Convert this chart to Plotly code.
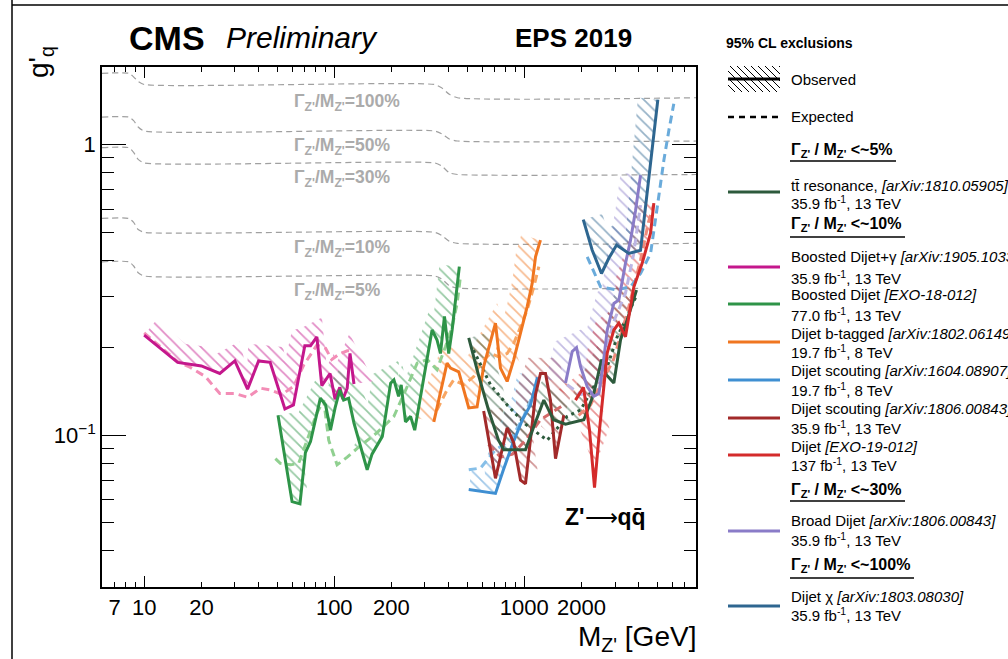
import numpy as np
import plotly.graph_objects as go

# ---------------- data ----------------
# Boosted Dijet + gamma
bdg_obs_x = [10, 15, 20, 25, 30, 35, 40, 46, 55, 61, 70, 75, 81, 86, 95, 101, 107, 111, 117, 121, 127]
bdg_obs_y = [0.221, 0.178, 0.173, 0.163, 0.180, 0.144, 0.180, 0.178, 0.123, 0.127, 0.203, 0.203, 0.218,
             0.148, 0.163, 0.133, 0.146, 0.133, 0.145, 0.191, 0.150]
bdg_exp_x = [10, 15, 17.5, 21, 25, 30, 35, 41, 46, 53, 61, 69, 81, 90, 97, 106, 117, 124]
bdg_exp_y = [0.225, 0.179, 0.171, 0.159, 0.139, 0.139, 0.135, 0.145, 0.143, 0.138, 0.147, 0.174, 0.204,
             0.199, 0.182, 0.190, 0.195, 0.195]
# Boosted Dijet
bd_obs_x = [50.6, 60, 66, 70.5, 75, 78.6, 84.5, 90, 95.5, 101, 107, 112, 119, 127, 149, 158, 179, 198, 206,
            218, 225, 237, 252, 265, 284, 327, 347, 362, 380, 400, 417, 455]
bd_obs_y = [0.117, 0.059, 0.058, 0.087, 0.095, 0.109, 0.134, 0.127, 0.104, 0.124, 0.143, 0.132, 0.134, 0.110,
            0.076, 0.086, 0.099, 0.151, 0.155, 0.136, 0.149, 0.111, 0.116, 0.104, 0.136, 0.230, 0.213, 0.191,
            0.256, 0.191, 0.230, 0.380]
bd_exp_x = [49, 52, 59, 65, 69, 75, 81, 88, 93.5, 103.5, 117, 132, 149, 168, 198, 206, 242, 273, 308, 347,
            385, 417, 443, 461]
bd_exp_y = [0.083, 0.080, 0.079, 0.080, 0.089, 0.103, 0.119, 0.132, 0.096, 0.079, 0.084, 0.090, 0.096, 0.102,
            0.113, 0.116, 0.147, 0.177, 0.182, 0.168, 0.202, 0.236, 0.284, 0.351]
# Dijet b-tagged
bt_obs_x = [334, 392, 409, 452, 510, 564, 611, 705, 749, 812, 880, 955, 1035, 1100, 1145, 1216]
bt_obs_y = [0.111, 0.177, 0.170, 0.165, 0.124, 0.125, 0.172, 0.243, 0.170, 0.153, 0.182, 0.224, 0.277, 0.333,
            0.411, 0.469]
bt_exp_x = [347, 392, 425, 480, 542, 588, 664, 734, 812, 880, 955, 1035, 1122, 1192]
bt_exp_y = [0.122, 0.143, 0.155, 0.149, 0.159, 0.177, 0.191, 0.186, 0.191, 0.207, 0.236, 0.270, 0.324, 0.380]
# Dijet scouting 8 TeV
s8_obs_x = [510, 705, 776, 866, 977, 1077, 1172]
s8_obs_y = [0.065, 0.063, 0.076, 0.093, 0.113, 0.127, 0.158]
s8_exp_x = [510, 588, 705, 845, 993, 1122, 1192]
s8_exp_y = [0.076, 0.077, 0.089, 0.096, 0.116, 0.140, 0.151]
# Dijet scouting 13 TeV
s13_obs_x = [611, 705, 812, 880, 955, 1014, 1145, 1216, 1292, 1372, 1459, 1550, 1613]
s13_obs_y = [0.121, 0.071, 0.106, 0.094, 0.070, 0.068, 0.138, 0.163, 0.163, 0.132, 0.083, 0.104, 0.117]
s13_exp_x = [648, 749, 866, 1014, 1216, 1459, 1607]
s13_exp_y = [0.093, 0.084, 0.086, 0.096, 0.113, 0.122, 0.127]
# ttbar resonance
tt_obs_x = [510, 574, 648, 731, 780, 1014, 1122, 1266, 1424, 1646, 2056, 2312, 2548, 2705, 2957, 3208, 3477, 3892]
tt_obs_y = [0.216, 0.161, 0.122, 0.096, 0.089, 0.089, 0.107, 0.132, 0.113, 0.109, 0.113, 0.138, 0.182, 0.161,
            0.151, 0.213, 0.249, 0.316]
tt_exp_x = [540, 664, 812, 1014, 1319, 1680, 1976, 2319, 2730, 3080, 3405, 3892]
tt_exp_y = [0.196, 0.149, 0.127, 0.109, 0.096, 0.116, 0.122, 0.147, 0.172, 0.218, 0.249, 0.303]
# Dijet EXO-19-012
dj_obs_x = [1858, 2048, 2202, 2340, 2485, 2730, 2957, 3142, 3405, 3768, 4171, 4614, 4800]
dj_obs_y = [0.132, 0.146, 0.104, 0.066, 0.104, 0.192, 0.230, 0.243, 0.218, 0.324, 0.391, 0.496, 0.629]
dj_exp_x = [1928, 2229, 2517, 2947, 3477, 4086, 4500, 4780]
dj_exp_y = [0.117, 0.127, 0.149, 0.182, 0.263, 0.401, 0.541, 0.619]
# Broad dijet
br_obs_x = [1646, 1786, 1881, 1976, 2142, 2319, 2467, 2578, 2730, 2957, 3142, 3405, 3620, 3848, 4086]
br_obs_y = [0.151, 0.194, 0.200, 0.172, 0.147, 0.136, 0.139, 0.168, 0.230, 0.284, 0.292, 0.390, 0.469, 0.594, 0.784]
br_exp_x = [1680, 1976, 2312, 2517, 2947, 3405, 3750, 4086]
br_exp_y = [0.149, 0.138, 0.140, 0.164, 0.245, 0.308, 0.417, 0.619]
# Dijet chi
chi_obs_x = [2042, 2276, 2546, 2781, 3056, 3546, 4086, 5039]
chi_obs_y = [0.552, 0.433, 0.360, 0.406, 0.451, 0.422, 0.433, 1.428]
chi_exp_x = [2142, 2517, 3060, 3620, 4086, 4614, 5004, 5420, 5760, 6113]
chi_exp_y = [0.411, 0.324, 0.316, 0.324, 0.360, 0.422, 0.610, 0.883, 1.12, 1.383]

# Gamma/M width reference curves
width_x = [6, 8.3, 8.8, 9.3, 10, 337, 367, 403, 445, 8000]
width_100 = [1.76, 1.76, 1.71, 1.65, 1.61, 1.61, 1.57, 1.49, 1.45, 1.45]
width_50 = [1.244, 1.244, 1.21, 1.15, 1.114, 1.114, 1.09, 1.045, 1.029, 1.029]
width_30 = [0.976, 0.976, 0.94, 0.89, 0.865, 0.865, 0.845, 0.80, 0.789, 0.789]
width_10 = [0.557, 0.557, 0.54, 0.51, 0.499, 0.499, 0.487, 0.465, 0.457, 0.457]
width_5 = [0.395, 0.395, 0.382, 0.362, 0.353, 0.353, 0.345, 0.327, 0.321, 0.321]
width_labels = ["100%", "50%", "30%", "10%", "5%"]

x_major = [10, 100, 1000]
x_labels = {7: "7", 10: "10", 20: "20", 100: "100", 200: "200", 1000: "1000", 2000: "2000"}
y_major = [0.1, 1]
y_major_text = ["10<sup>\u22121</sup>", "1"]

# ---------------- geometry / style ----------------
W, H = 1008, 659
PX0, PX1, PY0, PY1 = 102, 696, 67, 587
XMIN, XMAX = 6, 8000
YMIN, YMAX = 0.03, 1.85
SX = (PX1 - PX0) / np.log10(XMAX / XMIN)
SY = (PY1 - PY0) / np.log10(YMAX / YMIN)
FONT = "Liberation Sans"


def pxx(x):
    return (x - PX0) / (PX1 - PX0)


def pyy(y):
    return (PY1 - y) / (PY1 - PY0)


def band(xs, ys, w=20.0):
    """hatched exclusion band on the upper/left side of an observed curve"""
    u = np.log10(np.asarray(xs, float)) * SX
    v = np.log10(np.asarray(ys, float)) * SY
    du, dv = np.diff(u), np.diff(v)
    L = np.hypot(du, dv)
    nu, nv = -dv / L, du / L
    NU = np.empty(len(u))
    NV = np.empty(len(u))
    NU[0], NV[0] = nu[0], nv[0]
    NU[-1], NV[-1] = nu[-1], nv[-1]
    a = nu[:-1] + nu[1:]
    b = nv[:-1] + nv[1:]
    m = np.hypot(a, b)
    m[m == 0] = 1
    NU[1:-1] = a / m
    NV[1:-1] = b / m
    ou, ov = u + w * NU, v + w * NV
    pu = np.concatenate([u, ou[::-1], u[:1]])
    pv = np.concatenate([v, ov[::-1], v[:1]])
    return 10 ** (pu / SX), 10 ** (pv / SY)


series = [
    # obs_x, obs_y, exp_x, exp_y, color, exp_color, exp_dash
    (bdg_obs_x, bdg_obs_y, bdg_exp_x, bdg_exp_y, "#c4178c", "#f38db6", "8px,5px"),
    (bd_obs_x, bd_obs_y, bd_exp_x, bd_exp_y, "#2e9448", "#90d090", "8px,5px"),
    (bt_obs_x, bt_obs_y, bt_exp_x, bt_exp_y, "#f07620", "#f8a663", "8px,5px"),
    (s8_obs_x, s8_obs_y, s8_exp_x, s8_exp_y, "#3f8fd2", "#86bfe8", "8px,5px"),
    (s13_obs_x, s13_obs_y, s13_exp_x, s13_exp_y, "#a22a2a", "#d46a6a", "8px,5px"),
    (tt_obs_x, tt_obs_y, tt_exp_x, tt_exp_y, "#2d5a3c", "#2d5a3c", "3px,4px"),
    (br_obs_x, br_obs_y, br_exp_x, br_exp_y, "#8a7cc8", "#bdb5e3", "8px,5px"),
    (dj_obs_x, dj_obs_y, dj_exp_x, dj_exp_y, "#d42b2b", "#f08a7a", "8px,5px"),
    (chi_obs_x, chi_obs_y, chi_exp_x, chi_exp_y, "#2e6690", "#6aabdb", "8px,5px"),
]

fig = go.Figure()

# width reference dashed lines
for wy in [width_100, width_50, width_30, width_10, width_5]:
    fig.add_trace(go.Scatter(x=width_x, y=wy, mode="lines", hoverinfo="skip", showlegend=False,
                             line=dict(color="#a0a0a0", width=1.2, dash="6px,4px", shape="spline", smoothing=0.6)))

# hatched bands
for ox, oy, ex, ey, col, ecol, dsh in series:
    bx, by = band(ox, oy, 20)
    fig.add_trace(go.Scatter(x=bx, y=by, mode="lines", fill="toself", hoverinfo="skip", showlegend=False,
                             line=dict(width=0, color="rgba(0,0,0,0)"), fillcolor="rgba(0,0,0,0)",
                             fillpattern=dict(shape="\\", fgcolor=col, bgcolor="rgba(0,0,0,0)",
                                              size=8, solidity=0.22)))
# expected
for ox, oy, ex, ey, col, ecol, dsh in series:
    fig.add_trace(go.Scatter(x=ex, y=ey, mode="lines", hoverinfo="skip", showlegend=False,
                             line=dict(color=ecol, width=3, dash=dsh)))
# observed
for ox, oy, ex, ey, col, ecol, dsh in series:
    fig.add_trace(go.Scatter(x=ox, y=oy, mode="lines", hoverinfo="skip", showlegend=False,
                             line=dict(color=col, width=3)))

# dummy trace for minor-tick overlay axes
fig.add_trace(go.Scatter(x=[], y=[], xaxis="x2", yaxis="y2", showlegend=False, hoverinfo="skip"))

# tick lists
x_minor = []
for dec in [1, 10, 100, 1000]:
    for k in range(2, 10):
        v = k * dec
        if XMIN < v < XMAX and v not in x_major:
            x_minor.append(v)
x_minor_text = [x_labels.get(v, "") for v in x_minor]
y_minor = []
for dec in [0.01, 0.1, 1]:
    for k in range(2, 10):
        v = round(k * dec, 4)
        if YMIN < v < YMAX:
            y_minor.append(v)

tickfont = dict(family=FONT, size=22, color="black")
common = dict(type="log", showgrid=False, zeroline=False, ticks="inside", tickcolor="black", tickwidth=1,
              showline=True, linecolor="black", linewidth=1.5, mirror="ticks", tickfont=tickfont)

fig.update_layout(
    width=W, height=H, autosize=False,
    margin=dict(l=PX0, r=W - PX1, t=PY0, b=H - PY1, pad=0),
    paper_bgcolor="white", plot_bgcolor="white",
    font=dict(family=FONT, color="black"),
    xaxis=dict(range=[np.log10(XMIN), np.log10(XMAX)], tickmode="array", tickvals=x_major,
               ticktext=[x_labels[v] for v in x_major], ticklen=11, **common),
    xaxis2=dict(range=[np.log10(XMIN), np.log10(XMAX)], tickmode="array", tickvals=x_minor,
                ticktext=x_minor_text, ticklen=5, overlaying="x", anchor="y2", side="bottom", **common),
    yaxis=dict(range=[np.log10(YMIN), np.log10(YMAX)], tickmode="array", tickvals=y_major,
               ticktext=y_major_text, ticklen=24, **common),
    yaxis2=dict(range=[np.log10(YMIN), np.log10(YMAX)], tickmode="array", tickvals=y_minor,
                ticktext=["" for _ in y_minor], ticklen=12, overlaying="y", anchor="x2", side="left", **common),
)

ann = []
shapes = []


def text(x, y, s, size=15, xanchor="left", color="black", **kw):
    ann.append(dict(x=pxx(x), y=pyy(y), xref="paper", yref="paper", text=s, showarrow=False,
                    xanchor=xanchor, yanchor="middle", font=dict(family=FONT, size=size, color=color), **kw))


def hline(x0, x1, y, color="black", width=1.5, dash=None):
    shapes.append(dict(type="line", xref="paper", yref="paper", x0=pxx(x0), x1=pxx(x1), y0=pyy(y), y1=pyy(y),
                       line=dict(color=color, width=width, dash=dash)))


# titles
text(127, 38, "<b>CMS</b>", size=34)
text(224, 38, "<i>Preliminary</i>", size=30)
text(513, 38, "<b>EPS 2019</b>", size=26)
# width labels
for lab, yy in zip(width_labels, [103, 146, 178, 248, 291]):
    text(292, yy, "<b>\u0393<sub>Z'</sub>/M<sub>Z'</sub>=" + lab + "</b>", size=17.5, color="#ababab")
text(563, 517, "<b>Z'</b>\u27f6<b>qq\u0304</b>", size=23)
# axis titles
text(40, 62, "g'<sub>q</sub>", size=28, xanchor="center", textangle=-90)
text(698, 638, "M<sub>Z'</sub> [GeV]", size=28, xanchor="right")

# legend
LX0, LX1, TX = 728, 780, 789
text(724, 43, "<b>95% CL exclusions</b>", size=14)
# observed symbol: hatch + line
for c in range(728 - 26, 780, 7):
    xs, xe = max(728, c), min(780, c + 26)
    if xs < xe:
        shapes.append(dict(type="line", xref="paper", yref="paper", x0=pxx(xs), x1=pxx(xe),
                           y0=pyy(66 + xs - c), y1=pyy(66 + xe - c), line=dict(color="black", width=1)))
hline(LX0, LX1, 79, width=3)
text(TX, 79, "Observed")
hline(LX0, LX1, 117, width=2.5, dash="6px,5px")
text(TX, 116, "Expected")

legend_entries = [
    ("head", "5%", 150, 161, 896),
    ("item", "#2d5a3c", 192, "tt\u0304 resonance, <i>[arXiv:1810.05905]</i>", "35.9 fb<sup>-1</sup>, 13 TeV", 185, 203),
    ("head", "10%", 224, 237, 905),
    ("item", "#c4178c", 267, "Boosted Dijet+\u03b3 <i>[arXiv:1905.10331]</i>", "35.9 fb<sup>-1</sup>, 13 TeV", 256, 277),
    ("item", "#2e9448", 304, "Boosted Dijet <i>[EXO-18-012]</i>", "77.0 fb<sup>-1</sup>, 13 TeV", 294, 314),
    ("item", "#f07620", 342, "Dijet b-tagged <i>[arXiv:1802.06149]</i>", "19.7 fb<sup>-1</sup>, 8 TeV", 333, 351),
    ("item", "#3f8fd2", 380, "Dijet scouting <i>[arXiv:1604.08907]</i>", "19.7 fb<sup>-1</sup>, 8 TeV", 371, 389),
    ("item", "#a22a2a", 418, "Dijet scouting <i>[arXiv:1806.00843]</i>", "35.9 fb<sup>-1</sup>, 13 TeV", 408, 427),
    ("item", "#d42b2b", 455, "Dijet <i>[EXO-19-012]</i>", "137 fb<sup>-1</sup>, 13 TeV", 446, 464),
    ("head", "30%", 490, 501, 905),
    ("item", "#8a7cc8", 531, "Broad Dijet <i>[arXiv:1806.00843]</i>", "35.9 fb<sup>-1</sup>, 13 TeV", 520, 539),
    ("head", "100%", 565, 578, 914),
    ("item", "#2e6690", 606, "Dijet \u03c7 <i>[arXiv:1803.08030]</i>", "35.9 fb<sup>-1</sup>, 13 TeV", 596, 614),
]
for e in legend_entries:
    if e[0] == "head":
        _, pct, yy, uy, ux = e
        text(TX, yy, "<b>\u0393<sub>Z'</sub> / M<sub>Z'</sub> &lt;~" + pct + "</b>", size=16)
        hline(TX + 1, ux, uy, width=1.5)
    else:
        _, col, ly, t1, t2, y1, y2 = e
        hline(LX0, LX1, ly, color=col, width=3)
        text(TX, y1, t1)
        text(TX, y2, t2)

# outer canvas border
shapes.append(dict(type="line", xref="paper", yref="paper", x0=pxx(12), x1=pxx(12), y0=pyy(0), y1=pyy(H),
                   line=dict(color="black", width=1.5)))
shapes.append(dict(type="line", xref="paper", yref="paper", x0=pxx(12), x1=pxx(W), y0=pyy(5), y1=pyy(5),
                   line=dict(color="black", width=1.5)))

fig.update_layout(annotations=ann, shapes=shapes)
fig.write_html("out.html")
